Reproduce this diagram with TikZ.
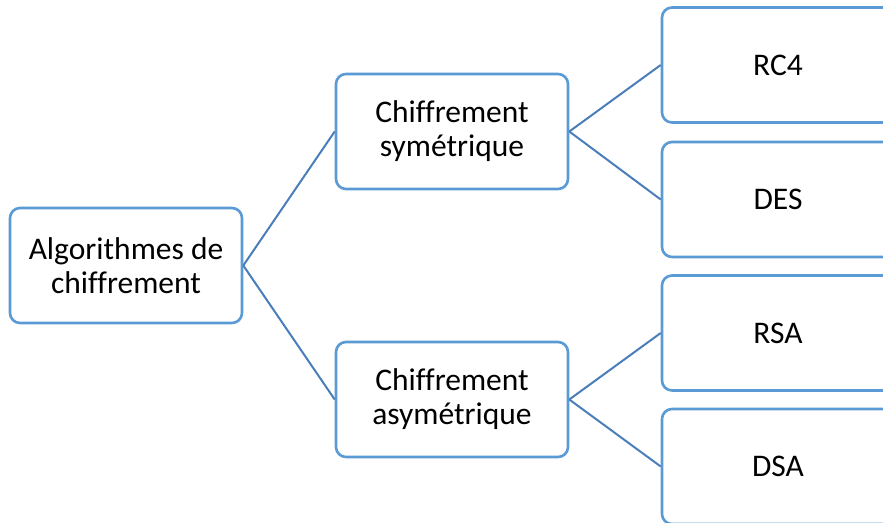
\documentclass[tikz,border=0pt]{standalone}
\usepackage{fontspec}
\setmainfont{Carlito}[Ligatures=NoCommon]
\begin{document}
\begin{tikzpicture}[x=1pt,y=-1pt,
  box/.style={draw=boxblue, line width=2.6pt, rounded corners=10pt, fill=white,
    minimum width=232pt, minimum height=115pt, align=center, inner sep=0pt,
    font=\fontsize{31.5}{34}\selectfont},
  link/.style={draw=linkblue, line width=2pt}]
\definecolor{boxblue}{HTML}{5B9BD5}
\definecolor{linkblue}{HTML}{4A7EBB}
\useasboundingbox (0,0) rectangle (883,522);
\begin{scope}
\clip (0,0) rectangle (883,522);
% tree levels
\node[box] (root) at (126,265.5) {Algorithmes de\\chiffrement};
\node[box] (sym)  at (452,131.5) {Chiffrement\\symétrique};
\node[box] (asym) at (452,399.5) {Chiffrement\\asymétrique};
\node[box] (rc4) at (778,65)    {RC4};
\node[box] (des) at (778,199.5) {DES};
\node[box] (rsa) at (778,333)   {RSA};
\node[box] (dsa) at (778,466.5) {DSA};
% connectors
\draw[link] (root.east) -- (sym.west);
\draw[link] (root.east) -- (asym.west);
\draw[link] (sym.east) -- (rc4.west);
\draw[link] (sym.east) -- (des.west);
\draw[link] (asym.east) -- (rsa.west);
\draw[link] (asym.east) -- (dsa.west);
\end{scope}
\end{tikzpicture}
\end{document}
